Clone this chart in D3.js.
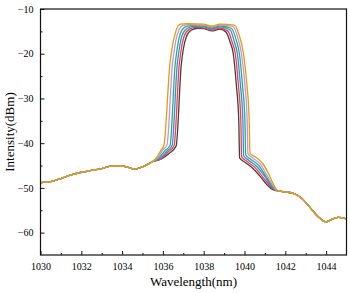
<!DOCTYPE html>
<html>
<head>
<meta charset="utf-8">
<script src="https://cdn.jsdelivr.net/npm/d3@7"></script>
<style>
  body { margin: 0; background: #fff; }
  text { font-family: "Liberation Serif", "Times New Roman", serif; }
</style>
</head>
<body>
<div id="chart"></div>
<script>
let width = 350,
    height = 293,
    margin = ({ top: 9, right: 3.5, bottom: 38, left: 40.5 });

// shared background on both sides of the peak
const leftBase = [[1030,-48.8],[1030.5,-48.6],[1031,-47.9],[1031.5,-47.1],[1032,-46.5],[1032.5,-46.1],
  [1033,-45.7],[1033.5,-45.1],[1034,-45.1],[1034.3,-45.4],[1034.6,-45.8],[1035,-45.3],[1035.5,-44.1]];
const rightBase = [[1041.7,-50.7],[1042,-50.9],[1042.4,-51.2],[1042.8,-52.3],[1043.2,-54.3],[1043.6,-56.4],
  [1044,-57.6],[1044.3,-57.0],[1044.6,-56.6],[1045,-56.9]];

// peak region of each trace
const peakBlack = [[1035.9,-43.6],[1036.3,-42.3],[1036.65,-40.6],[1036.9,-22.5],[1037.0,-19.0],[1037.15,-16.2],[1037.4,-14.7],[1037.7,-14.3],[1038.0,-14.4],[1038.4,-14.9],[1038.8,-14.5],[1039.1,-15.2],[1039.3,-17.5],[1039.45,-20.0],[1039.6,-27.0],[1039.72,-35.0],[1039.76,-43.3],[1040.0,-44.2],[1040.4,-45.6],[1040.8,-47.6],[1041.1,-49.3],[1041.4,-50.4]];
const peakRed = [[1035.9,-43.5],[1036.25,-42.0],[1036.55,-40.5],[1036.8,-22.5],[1036.9,-19.0],[1037.05,-16.0],[1037.3,-14.5],[1037.6,-14.1],[1038.0,-14.2],[1038.4,-14.7],[1038.8,-14.3],[1039.2,-15.0],[1039.4,-17.5],[1039.55,-20.0],[1039.7,-27.0],[1039.82,-35.0],[1039.86,-43.0],[1040.1,-44.0],[1040.5,-45.4],[1040.9,-47.6],[1041.2,-49.3],[1041.45,-50.4]];
const peakBlue = [[1035.85,-43.4],[1036.2,-41.8],[1036.45,-40.5],[1036.7,-22.5],[1036.8,-19.0],[1036.95,-15.8],[1037.2,-14.3],[1037.5,-13.9],[1038.0,-14.0],[1038.4,-14.4],[1038.8,-14.0],[1039.3,-14.7],[1039.5,-17.3],[1039.65,-20.0],[1039.8,-27.0],[1039.92,-35.0],[1039.96,-42.8],[1040.2,-43.8],[1040.6,-45.2],[1041.0,-47.5],[1041.25,-49.2],[1041.5,-50.4]];
const peakGreen = [[1035.8,-43.3],[1036.1,-41.7],[1036.35,-40.5],[1036.6,-22.4],[1036.7,-18.9],[1036.85,-15.6],[1037.1,-14.0],[1037.4,-13.7],[1038.0,-13.8],[1038.4,-14.2],[1038.8,-13.8],[1039.35,-14.3],[1039.6,-17.0],[1039.75,-20.0],[1039.9,-27.0],[1040.02,-35.0],[1040.06,-42.6],[1040.3,-43.6],[1040.7,-45.0],[1041.05,-47.4],[1041.3,-49.2],[1041.55,-50.4]];
const peakViolet = [[1035.75,-43.2],[1036.0,-41.5],[1036.2,-40.4],[1036.47,-22.2],[1036.57,-18.8],[1036.72,-15.5],[1036.97,-13.7],[1037.3,-13.5],[1038.0,-13.6],[1038.4,-14.0],[1038.8,-13.6],[1039.42,-13.9],[1039.68,-16.5],[1039.85,-20.0],[1040.02,-27.0],[1040.13,-35.0],[1040.17,-42.4],[1040.4,-43.3],[1040.8,-44.8],[1041.1,-47.2],[1041.35,-49.1],[1041.55,-50.4]];
const peakGold = [[1035.7,-43.1],[1035.9,-41.6],[1036.05,-40.4],[1036.35,-22.0],[1036.45,-18.7],[1036.6,-15.5],[1036.85,-13.4],[1037.2,-13.3],[1038.0,-13.4],[1038.4,-13.8],[1038.8,-13.4],[1039.5,-13.6],[1039.75,-16.0],[1039.95,-20.0],[1040.12,-27.0],[1040.23,-35.0],[1040.27,-42.3],[1040.5,-43.0],[1040.9,-44.6],[1041.2,-47.0],[1041.4,-49.0],[1041.6,-50.5]];

const peaks = [peakBlack, peakRed, peakBlue, peakGreen, peakViolet, peakGold];
const colors = ["#404040", "#ff3b3b", "#2a8cff", "#2fb05a", "#c58cff", "#e0a000"];

const xTicks = [1030, 1032, 1034, 1036, 1038, 1040, 1042, 1044];
const yTicks = [-10, -20, -30, -40, -50, -60];

const svg = d3.select("#chart")
  .append("svg")
  .attr("width", width)
  .attr("height", height);

let x = d3.scaleLinear()
  .domain([1030, 1045])
  .range([margin.left, width - margin.right]);

let y = d3.scaleLinear()
  .domain([-65, -10])
  .range([height - margin.bottom, margin.top]);

// traces
const line = d3.line()
  .x(d => x(d[0]))
  .y(d => y(d[1]))
  .curve(d3.curveMonotoneX);

svg.append("g")
  .attr("fill", "none")
  .attr("stroke-width", 1.3)
  .selectAll("path")
  .data(peaks)
  .join("path")
  .attr("stroke", (d, i) => colors[i])
  .attr("d", d => line(leftBase.concat(d, rightBase)));

// axes, ticks pointing inward
const fmt = d => String(d).replace("-", "\u2212");

svg.append("g")
  .attr("transform", `translate(0,${height - margin.bottom})`)
  .call(d3.axisBottom(x).tickValues(d3.range(1031, 1045, 2)).tickSize(-2).tickFormat(""))
  .call(g => g.select(".domain").remove());

svg.append("g")
  .attr("transform", `translate(0,${height - margin.bottom})`)
  .call(d3.axisBottom(x).tickValues(xTicks).tickSize(-4).tickPadding(8).tickFormat(d => d))
  .call(g => g.select(".domain").remove())
  .call(g => g.selectAll("text").attr("font-size", 10).attr("font-family", "Liberation Serif").attr("fill", "#000"));

svg.append("g")
  .attr("transform", `translate(0,0)`)
  .attr("transform", `translate(${margin.left},0)`)
  .call(d3.axisLeft(y).tickValues(d3.range(-15, -65, -10)).tickSize(-2).tickFormat(""))
  .call(g => g.select(".domain").remove());

svg.append("g")
  .attr("transform", `translate(${margin.left},0)`)
  .call(d3.axisLeft(y).tickValues(yTicks).tickSize(-4).tickPadding(7).tickFormat(fmt))
  .call(g => g.select(".domain").remove())
  .call(g => g.selectAll("text").attr("font-size", 10).attr("font-family", "Liberation Serif").attr("fill", "#000"));

svg.selectAll(".tick line").attr("stroke", "#111").attr("stroke-width", 1);

// frame
svg.append("rect")
  .attr("x", margin.left)
  .attr("y", margin.top)
  .attr("width", width - margin.left - margin.right)
  .attr("height", height - margin.top - margin.bottom)
  .attr("fill", "none")
  .attr("stroke", "#111")
  .attr("stroke-width", 1.2);

// axis titles
svg.append("text")
  .attr("x", (margin.left + width - margin.right) / 2)
  .attr("y", 286)
  .attr("text-anchor", "middle")
  .attr("font-size", 13)
  .attr("fill", "#000")
  .text("Wavelength(nm)");

svg.append("text")
  .attr("transform", `translate(14,${(margin.top + height - margin.bottom) / 2}) rotate(-90)`)
  .attr("text-anchor", "middle")
  .attr("font-size", 13)
  .attr("fill", "#000")
  .text("Intensity(dBm)");
</script>
</body>
</html>
